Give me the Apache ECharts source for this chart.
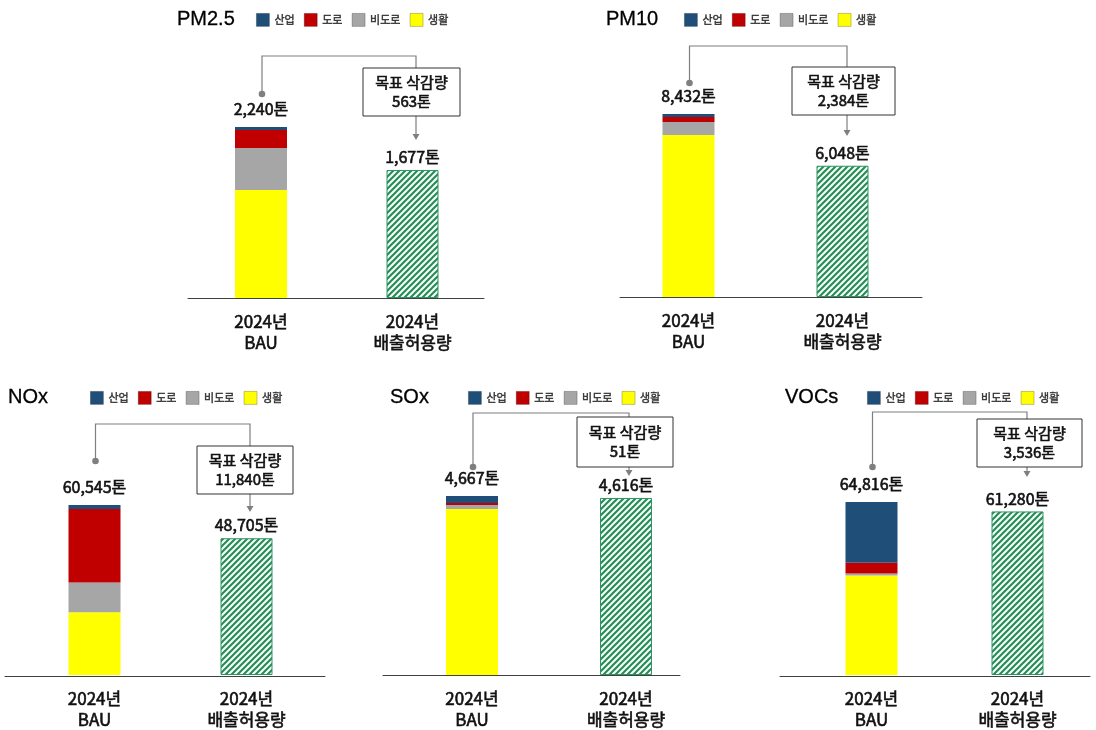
<!DOCTYPE html>
<html>
<head>
<meta charset="utf-8">
<script src="https://cdn.jsdelivr.net/npm/echarts@6/dist/echarts.min.js"></script>
<style>
  html, body { margin: 0; padding: 0; background: #fff; }
  #chart { width: 1096px; height: 730px; }
</style>
</head>
<body>
<div id="chart"></div>
<script>
// Pollutants, one panel each
const pollutants = ['PM2.5', 'PM10', 'NOx', 'SOx', 'VOCs'];
const sources = ['산업', '도로', '비도로', '생활'];
const categories = ['2024년\nBAU', '2024년\n배출허용량'];

// 2024 BAU emissions by source (tons), one value per pollutant
const industry = [40, 138, 1400, 183, 22720];
const road     = [236, 230, 26200, 52, 4100];
const nonRoad  = [550, 600, 10620, 104, 750];
const living   = [1414, 7464, 22325, 4328, 37246];

// 2024 allowable emissions (tons)
const allowance = [1677, 6048, 48705, 4616, 61280];

const total = pollutants.map((_, i) => industry[i] + road[i] + nonRoad[i] + living[i]);
const fmt = v => Number(v).toLocaleString('en-US');

const KR = '"Noto Sans CJK KR", "Noto Sans", sans-serif';
const LATIN = '"Liberation Sans", Arial, sans-serif';
const INK = '#111';
const sourceColors = { '산업': '#1F4E79', '도로': '#C00000', '비도로': '#A6A6A6', '생활': '#FFFF00' };
// bottom-to-top stacking order
const stackOrder = [['생활', living], ['비도로', nonRoad], ['도로', road], ['산업', industry]];

// Panel placement (pixels). bau/allow: bar centres, top: BAU bar top, base: baseline,
// line: baseline extent; annotation offsets are relative to the BAU bar top.
const layout = [
  { title: [177, 20], legend: [256, 20], bau: 261,   allow: 412.5,  top: 127, base: 298, line: [188, 484],
    bracket: -71, dot: -33, box: [-59, -11], tip: 13,  boxW: 97,  lx: 3.5, bx: -1 },
  { title: [606, 20], legend: [684, 20], bau: 688.5, allow: 842.5,  top: 114, base: 297, line: [620, 922],
    bracket: -68, dot: -31, box: [-47, 1],   tip: 22,  boxW: 103, lx: 4.5, bx: 1 },
  { title: [8, 398],  legend: [90, 398],  bau: 94.5,  allow: 246.5,  top: 505, base: 676, line: [5, 325],
    bracket: -81, dot: -44, box: [-59, -11], tip: 7,   boxW: 96,  lx: 3.5, bx: -1.5 },
  { title: [390, 398], legend: [468, 398], bau: 472,   allow: 626,    top: 496, base: 675, line: [383, 680],
    bracket: -83, dot: -29, box: [-79, -29], tip: -20, boxW: 96,  lx: 3, bx: -1 },
  { title: [785, 398], legend: [867, 398], bau: 871.5, allow: 1017.5, top: 502, base: 676, line: [780, 1090],
    bracket: -90, dot: -35, box: [-83, -35], tip: -25, boxW: 105, lx: 9.5, bx: 12 }
];

// Diagonal green hatch used for the allowance bars
function makeHatch() {
  const s = 6;
  const c = document.createElement('canvas');
  c.width = s; c.height = s;
  const g = c.getContext('2d');
  g.fillStyle = '#f2fbf5';
  g.fillRect(0, 0, s, s);
  g.strokeStyle = '#238a55';
  g.lineWidth = 2;
  g.beginPath();
  g.moveTo(0, s); g.lineTo(s, 0);
  g.moveTo(-1, 1); g.lineTo(1, -1);
  g.moveTo(s - 1, s + 1); g.lineTo(s + 1, s - 1);
  g.stroke();
  return c;
}
const hatch = makeHatch();

// Slightly heavier Korean text
const heavy = { textBorderColor: INK, textBorderWidth: 0.6 };

const W = 1096, H = 730;
const grid = [], xAxis = [], yAxis = [], series = [], title = [], legend = [];
const GREY = '#7f7f7f';

pollutants.forEach((name, i) => {
  const L = layout[i];
  grid.push({ left: L.bau, right: W - L.allow, top: L.top, bottom: H - L.base });
  xAxis.push({
    type: 'category', gridIndex: i, data: categories, boundaryGap: false,
    axisLine: { show: false }, axisTick: { show: false }, splitLine: { show: false },
    axisLabel: Object.assign({ interval: 0, margin: 13, fontSize: 17, lineHeight: 21, fontFamily: KR, color: INK }, heavy)
  });
  yAxis.push({ type: 'value', gridIndex: i, min: 0, max: total[i], show: false });

  title.push({
    text: name, left: L.title[0], top: L.title[1] - 11, padding: 0,
    textStyle: { fontSize: 20, fontWeight: 'normal', fontFamily: LATIN, color: '#000', textBorderColor: '#000', textBorderWidth: 0.3 }
  });
  legend.push({
    data: sources, left: L.legend[0], top: L.legend[1] - 7, padding: 0,
    icon: 'rect', itemWidth: 13, itemHeight: 13, itemGap: 9,
    itemStyle: { borderColor: 'rgba(0,0,0,0.3)', borderWidth: 0.8 },
    textStyle: { fontSize: 11, fontFamily: KR, color: '#333', textBorderColor: '#333', textBorderWidth: 0.4 },
    selectedMode: false
  });

  stackOrder.forEach(([src, arr], k) => {
    series.push({
      type: 'bar', name: src, xAxisIndex: i, yAxisIndex: i, stack: 's' + i, barWidth: 52,
      data: [arr[i], '-'],
      itemStyle: { color: sourceColors[src] },
      label: k === stackOrder.length - 1 ? Object.assign({
        show: true, position: 'top', distance: 10,
        formatter: () => fmt(total[i]) + '톤',
        fontSize: 16, fontFamily: KR, color: INK
      }, heavy) : { show: false },
      emphasis: { disabled: true }, silent: true
    });
  });

  series.push({
    type: 'bar', name: '배출허용량', xAxisIndex: i, yAxisIndex: i, stack: 's' + i, barWidth: 52,
    data: ['-', allowance[i]],
    itemStyle: { color: { image: hatch, repeat: 'repeat' }, borderColor: '#2f9461', borderWidth: 1 },
    label: Object.assign({
      show: true, position: 'top', distance: 5,
      formatter: p => fmt(p.value) + '톤',
      fontSize: 16, fontFamily: KR, color: INK
    }, heavy),
    emphasis: { disabled: true }, silent: true
  });

  // Bracket from the BAU total to the reduction box, arrow down to the allowance
  series.push({
    type: 'custom', xAxisIndex: i, yAxisIndex: i, coordinateSystem: 'cartesian2d',
    clip: false, silent: true, z: 5,
    data: [[0, total[i], 1, allowance[i], total[i] - allowance[i]]],
    encode: { x: 0, y: 1 },
    renderItem: (params, api) => {
      const p0 = api.coord([api.value(0), api.value(1)]);
      const p1 = api.coord([api.value(2), api.value(3)]);
      const top = p0[1];
      const xa = p0[0] + 1;
      const xb = p1[0] + L.lx;
      const xc = p1[0] + L.bx;
      const yBr = top + L.bracket, yDot = top + L.dot;
      const yB0 = top + L.box[0], yB1 = top + L.box[1], yTip = top + L.tip;
      const line = { stroke: GREY, lineWidth: 1.2, fill: null };
      return {
        type: 'group',
        children: [
          { type: 'polyline', shape: { points: [[xa, yDot], [xa, yBr], [xb, yBr], [xb, yB0]] }, style: line },
          { type: 'circle', shape: { cx: xa, cy: yDot, r: 3.3 }, style: { fill: GREY } },
          { type: 'line', shape: { x1: xb, y1: yB1, x2: xb, y2: yTip - 5 }, style: line },
          { type: 'polygon', shape: { points: [[xb - 3.5, yTip - 6], [xb + 3.5, yTip - 6], [xb, yTip]] }, style: { fill: GREY } },
          { type: 'rect', shape: { x: xc - L.boxW / 2, y: yB0, width: L.boxW, height: yB1 - yB0 },
            style: { fill: '#fff', stroke: '#333', lineWidth: 1 } },
          { type: 'text', x: xc, y: (yB0 + yB1) / 2,
            style: { text: '목표 삭감량\n' + fmt(api.value(4)) + '톤', align: 'center', verticalAlign: 'middle',
                     fontSize: 15, fontFamily: KR, lineHeight: 19, fill: INK, stroke: INK, lineWidth: 0.6 } }
        ]
      };
    }
  });
});

// Baselines under each pair of bars
pollutants.forEach((_, i) => {
  const L = layout[i];
  const g = grid.length;
  grid.push({ left: L.line[0], width: L.line[1] - L.line[0], top: L.base - 10, height: 10 });
  xAxis.push({
    type: 'value', gridIndex: g, min: 0, max: 1,
    axisLine: { show: true, onZero: false, lineStyle: { color: '#404040', width: 1 } },
    axisTick: { show: false }, axisLabel: { show: false }, splitLine: { show: false }
  });
  yAxis.push({ type: 'value', gridIndex: g, min: 0, max: 1, show: false });
});

const chart = echarts.init(document.getElementById('chart'), null, { renderer: 'canvas' });
chart.setOption({
  animation: false,
  backgroundColor: '#fff',
  title, legend, grid, xAxis, yAxis, series
});
</script>
</body>
</html>
